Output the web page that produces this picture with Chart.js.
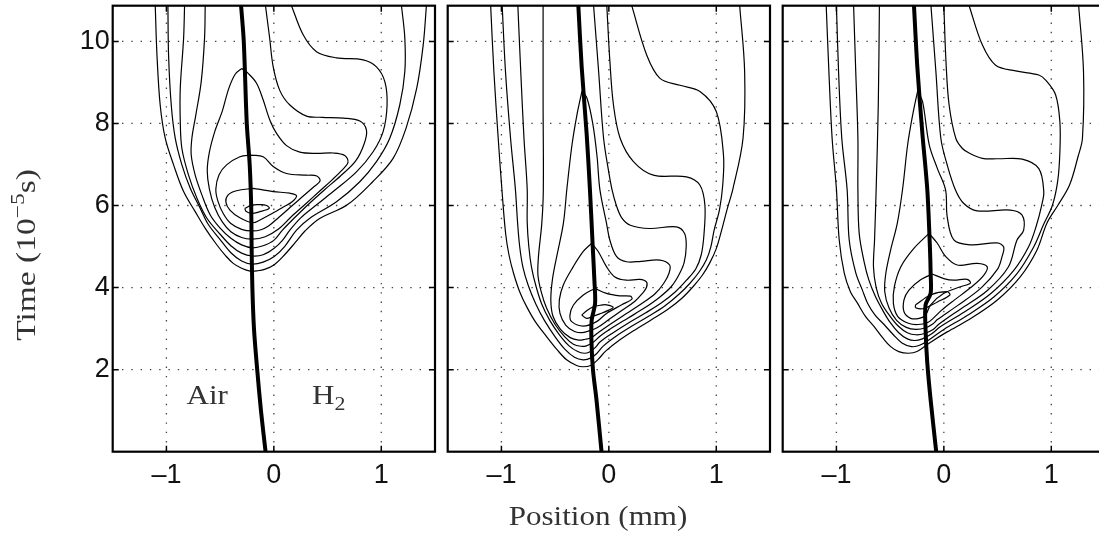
<!DOCTYPE html>
<html>
<head>
<meta charset="utf-8">
<script src="https://cdn.jsdelivr.net/npm/chart.js@4.4.1/dist/chart.umd.min.js"></script>
<style>
html, body { margin: 0; padding: 0; background: #fff; overflow: hidden; width: 1099px; height: 537px; }
canvas { position: absolute; top: 0; }
</style>
</head>
<body>
<canvas id="p1" width="440" height="537" style="left:0px;width:440px;height:537px"></canvas>
<canvas id="p2" width="440" height="537" style="left:335px;width:440px;height:537px"></canvas>
<canvas id="p3" width="440" height="537" style="left:670px;width:440px;height:537px"></canvas>
<script>
// axes
const xTicks = [-1, 0, 1];
const yTicks = [2, 4, 6, 8, 10];
const xMin = -1.5, xMax = 1.5, yMin = 0, yMax = 10.87;

// panel 1 : interface + contour levels (outer C1 ... inner C8), [position mm, time 1e-5 s]
const p1Interface = [[-0.305,10.87],[-0.28,10],[-0.252,8],[-0.225,7],[-0.211,6],[-0.207,5],[-0.2,4],[-0.185,3],[-0.155,2],[-0.12,1],[-0.077,0]];
const p1C1 = [[-1.104,10.87],[-1.088,9.67],[-1.058,8.45],[-1.011,7.64],[-0.933,6.99],[-0.84,6.34],[-0.732,5.85],[-0.64,5.45],[-0.533,5.05],[-0.45,4.78],[-0.378,4.59],[-0.3,4.47],[-0.22,4.4],[-0.15,4.41],[-0.08,4.45],[0,4.55],[0.1,4.8],[0.2,5.1],[0.29,5.38],[0.43,5.69],[0.68,6.01],[0.92,6.58],[1.11,7.15],[1.23,7.88],[1.33,8.86],[1.39,9.91],[1.42,10.87]];
const p1C2 = [[-0.986,10.87],[-0.98,9.67],[-0.955,8.45],[-0.918,7.64],[-0.856,6.99],[-0.778,6.42],[-0.685,5.93],[-0.608,5.53],[-0.5,5.17],[-0.4,4.85],[-0.3,4.65],[-0.2,4.57],[-0.1,4.62],[0,4.75],[0.1,5.0],[0.211,5.4],[0.335,5.69],[0.583,6.09],[0.8,6.58],[0.955,7.07],[1.079,7.64],[1.172,8.45],[1.219,9.26],[1.219,10.08],[1.188,10.87]];
const p1C3 = [[-0.831,10.87],[-0.84,10.08],[-0.871,8.86],[-0.871,8.04],[-0.856,7.39],[-0.794,6.74],[-0.716,6.18],[-0.623,5.69],[-0.5,5.3],[-0.4,5.02],[-0.3,4.84],[-0.2,4.77],[-0.1,4.8],[0,4.95],[0.08,5.15],[0.149,5.4],[0.25,5.7],[0.38,5.98],[0.552,6.34],[0.769,6.82],[0.924,7.31],[1.017,7.8],[1.054,8.45],[1.033,9.02],[0.955,9.38],[0.831,9.55],[0.583,9.6],[0.397,9.75],[0.273,10.16],[0.164,10.87]];
const p1C4 = [[-0.639,10.87],[-0.645,10.08],[-0.676,9.02],[-0.726,8.21],[-0.763,7.64],[-0.769,7.23],[-0.732,6.74],[-0.67,6.26],[-0.592,5.77],[-0.5,5.45],[-0.4,5.2],[-0.3,5.04],[-0.2,4.97],[-0.1,5.02],[0,5.15],[0.08,5.4],[0.2,5.72],[0.33,6.05],[0.47,6.38],[0.62,6.72],[0.76,7.08],[0.84,7.5],[0.862,7.84],[0.8,8.06],[0.65,8.13],[0.45,8.15],[0.304,8.18],[0.149,8.45],[0.056,8.8],[-0.006,9.38],[-0.04,10.1],[-0.078,10.87]];
const p1C5 = [[-0.298,9.34],[-0.239,9.22],[-0.161,8.98],[-0.099,8.57],[-0.037,8.08],[0.025,7.76],[0.118,7.46],[0.242,7.3],[0.397,7.27],[0.552,7.28],[0.66,7.22],[0.69,7.05],[0.63,6.85],[0.54,6.62],[0.43,6.36],[0.3,6.05],[0.16,5.72],[0.04,5.42],[-0.08,5.24],[-0.2,5.18],[-0.3,5.22],[-0.4,5.36],[-0.48,5.6],[-0.55,5.95],[-0.6,6.4],[-0.62,6.85],[-0.6,7.3],[-0.55,7.8],[-0.48,8.3],[-0.42,8.85],[-0.36,9.2],[-0.298,9.34]];
const p1C6 = [[-0.208,7.23],[-0.099,7.19],[-0.006,6.95],[0.118,6.78],[0.304,6.74],[0.4,6.72],[0.43,6.6],[0.37,6.45],[0.26,6.2],[0.15,5.95],[0.05,5.72],[-0.05,5.5],[-0.12,5.41],[-0.2,5.38],[-0.3,5.42],[-0.4,5.56],[-0.47,5.8],[-0.52,6.1],[-0.54,6.4],[-0.51,6.75],[-0.44,6.99],[-0.316,7.19],[-0.208,7.23]];
const p1C7 = [[-0.192,6.42],[-0.006,6.34],[0.149,6.3],[0.211,6.24],[0.17,6.09],[0.08,5.95],[-0.02,5.8],[-0.12,5.66],[-0.2,5.58],[-0.316,5.7],[-0.409,5.89],[-0.447,6.09],[-0.425,6.26],[-0.347,6.36],[-0.192,6.42]];
const p1C8 = [[-0.27,5.93],[-0.208,6.01],[-0.13,6.02],[-0.068,6.0],[-0.043,5.93],[-0.13,5.85],[-0.208,5.81],[-0.26,5.86],[-0.27,5.93]];

// panel 2
const p2Interface = [[-0.284,10.87],[-0.253,9.38],[-0.207,7.76],[-0.176,6.38],[-0.15,5],[-0.135,4.2],[-0.128,3.62],[-0.16,3.2],[-0.162,2.7],[-0.148,2],[-0.115,1.26],[-0.068,0]];
const p2C1 = [[-1.1,10.87],[-1.07,9.26],[-1.03,7.64],[-0.99,6.2],[-0.96,5.3],[-0.93,4.8],[-0.887,4.35],[-0.83,3.9],[-0.764,3.53],[-0.68,3.15],[-0.578,2.8],[-0.48,2.48],[-0.393,2.24],[-0.3,2.1],[-0.24,2.07],[-0.17,2.1],[-0.1,2.25],[-0.03,2.45],[0.1,2.72],[0.25,2.98],[0.4,3.22],[0.55,3.47],[0.68,3.74],[0.783,4.02],[0.87,4.3],[0.937,4.59],[1.0,4.95],[1.05,5.4],[1.1,5.9],[1.156,6.42],[1.249,7.64],[1.264,9.26],[1.218,10.87]];
const p2C2 = [[-0.993,10.87],[-0.962,9.26],[-0.915,7.64],[-0.87,6.4],[-0.85,5.6],[-0.83,5.0],[-0.8,4.5],[-0.75,4.05],[-0.68,3.6],[-0.6,3.2],[-0.5,2.8],[-0.41,2.5],[-0.32,2.3],[-0.24,2.24],[-0.17,2.28],[-0.11,2.4],[-0.05,2.58],[0.07,2.82],[0.22,3.07],[0.37,3.3],[0.52,3.55],[0.65,3.83],[0.753,4.1],[0.84,4.38],[0.907,4.67],[0.95,5.0],[0.98,5.4],[1.03,5.9],[1.06,6.5],[1.067,7.23],[1.0,8.29],[0.848,8.78],[0.662,8.93],[0.476,9.1],[0.352,9.67],[0.213,10.87]];
const p2C3 = [[-0.847,10.87],[-0.82,9.26],[-0.79,7.64],[-0.76,6.4],[-0.76,5.6],[-0.745,5.0],[-0.72,4.5],[-0.68,4.05],[-0.625,3.6],[-0.55,3.2],[-0.46,2.85],[-0.37,2.58],[-0.29,2.44],[-0.23,2.4],[-0.18,2.43],[-0.13,2.53],[-0.08,2.68],[0.04,2.9],[0.19,3.15],[0.34,3.38],[0.49,3.63],[0.62,3.9],[0.723,4.18],[0.81,4.46],[0.86,4.8],[0.885,5.28],[0.894,6.01],[0.847,6.5],[0.723,6.7],[0.414,6.74],[0.229,7.07],[0.105,7.64],[0.043,8.45],[0.01,9.5],[-0.019,10.87]];
const p2C4 = [[-0.612,10.87],[-0.612,8.5],[-0.61,6.38],[-0.624,5.57],[-0.655,4.76],[-0.66,4.3],[-0.63,3.9],[-0.58,3.5],[-0.5,3.1],[-0.41,2.8],[-0.33,2.62],[-0.26,2.57],[-0.21,2.58],[-0.15,2.66],[-0.08,2.82],[0.03,3.02],[0.18,3.26],[0.33,3.5],[0.47,3.76],[0.58,4.02],[0.65,4.3],[0.7,4.6],[0.72,5.0],[0.705,5.32],[0.628,5.48],[0.381,5.44],[0.2,5.52],[0.12,5.7],[0.07,6.0],[0.03,6.38],[0,6.8],[-0.049,7.64],[-0.095,9.26],[-0.142,10.87]];
const p2C5 = [[-0.25,8.79],[-0.204,8.62],[-0.15,8.0],[-0.11,7.2],[-0.083,6.38],[-0.022,5.57],[0.009,5.16],[0.071,4.76],[0.164,4.63],[0.3,4.64],[0.475,4.67],[0.566,4.55],[0.56,4.35],[0.51,4.1],[0.43,3.85],[0.3,3.6],[0.16,3.36],[0.02,3.12],[-0.1,2.9],[-0.17,2.77],[-0.22,2.74],[-0.28,2.72],[-0.36,2.78],[-0.45,2.98],[-0.52,3.3],[-0.54,3.7],[-0.525,4.2],[-0.485,4.76],[-0.423,5.57],[-0.39,6.42],[-0.343,7.48],[-0.297,8.21],[-0.25,8.79]];
const p2C6 = [[-0.16,5.08],[-0.099,4.88],[-0.022,4.51],[0.056,4.26],[0.164,4.18],[0.288,4.2],[0.35,4.14],[0.35,4.0],[0.31,3.85],[0.24,3.66],[0.12,3.44],[0,3.22],[-0.11,3.02],[-0.2,2.93],[-0.25,2.9],[-0.32,2.93],[-0.4,3.08],[-0.455,3.37],[-0.461,3.7],[-0.423,4.07],[-0.331,4.51],[-0.238,4.88],[-0.16,5.08]];
const p2C7 = [[-0.13,3.98],[-0.022,3.86],[0.102,3.8],[0.2,3.79],[0.215,3.72],[0.12,3.58],[-0.022,3.37],[-0.114,3.17],[-0.238,3.06],[-0.346,3.17],[-0.362,3.33],[-0.331,3.57],[-0.238,3.82],[-0.13,3.98]];
const p2C8 = [[-0.253,3.33],[-0.2,3.45],[-0.145,3.53],[-0.08,3.57],[-0.022,3.58],[0.04,3.52],[0,3.45],[-0.084,3.36],[-0.15,3.3],[-0.207,3.25],[-0.253,3.33]];

// panel 3
const p3Interface = [[-0.278,10.87],[-0.247,9.38],[-0.2,7.76],[-0.154,6.38],[-0.13,5.0],[-0.123,4.35],[-0.123,3.86],[-0.17,3.58],[-0.17,2.97],[-0.154,2.16],[-0.123,1.26],[-0.071,0]];
const p3C1 = [[-1.095,10.87],[-1.07,9.26],[-1.04,7.64],[-1.0,6.4],[-0.974,5.16],[-0.927,4.35],[-0.87,3.9],[-0.804,3.62],[-0.73,3.3],[-0.649,3.05],[-0.57,2.78],[-0.495,2.56],[-0.42,2.44],[-0.33,2.4],[-0.25,2.44],[-0.123,2.67],[0.031,2.92],[0.247,3.24],[0.495,3.69],[0.711,4.26],[0.866,4.91],[0.959,5.57],[1.06,6.0],[1.17,6.5],[1.25,7.2],[1.29,7.64],[1.3,9.26],[1.255,10.87]];
const p3C2 = [[-1.0,10.87],[-0.98,9.26],[-0.95,7.64],[-0.9,6.38],[-0.881,5.16],[-0.819,4.35],[-0.76,3.95],[-0.71,3.62],[-0.64,3.33],[-0.556,3.1],[-0.47,2.85],[-0.39,2.65],[-0.3,2.56],[-0.22,2.6],[-0.12,2.76],[0,2.98],[0.217,3.32],[0.465,3.77],[0.681,4.34],[0.836,4.99],[0.93,5.55],[1.01,6.0],[1.06,6.6],[1.08,7.3],[1.08,8.04],[1.04,8.7],[0.95,9.05],[0.884,9.18],[0.668,9.28],[0.482,9.42],[0.359,9.91],[0.235,10.87]];
const p3C3 = [[-0.84,10.87],[-0.82,9.26],[-0.8,7.64],[-0.8,6.38],[-0.788,5.32],[-0.74,4.6],[-0.7,4.2],[-0.64,3.8],[-0.57,3.45],[-0.5,3.15],[-0.42,2.9],[-0.34,2.75],[-0.27,2.71],[-0.2,2.75],[-0.12,2.86],[-0.03,3.05],[0.187,3.4],[0.435,3.85],[0.651,4.42],[0.79,5.0],[0.86,5.5],[0.91,6.0],[0.93,6.34],[0.884,6.9],[0.73,7.13],[0.5,7.14],[0.359,7.15],[0.235,7.28],[0.173,7.39],[0.111,7.64],[0.049,8.45],[0.02,9.5],[0,10.87]];
const p3C4 = [[-0.6,10.87],[-0.61,8.5],[-0.63,6.4],[-0.645,5.16],[-0.655,4.5],[-0.63,4.0],[-0.58,3.62],[-0.5,3.3],[-0.42,3.05],[-0.34,2.9],[-0.26,2.85],[-0.18,2.88],[-0.1,2.98],[-0.05,3.1],[0.157,3.48],[0.405,3.93],[0.6,4.5],[0.681,5.16],[0.743,5.4],[0.727,5.77],[0.619,5.89],[0.31,5.87],[0.186,6.05],[0.108,6.38],[0.03,7.0],[-0.028,7.64],[-0.074,9.26],[-0.12,10.87]];
const p3C5 = [[-0.244,8.79],[-0.198,8.53],[-0.136,7.48],[-0.06,6.9],[0.016,6.38],[0.031,5.73],[0.093,5.16],[0.247,5.04],[0.495,5.09],[0.557,4.99],[0.541,4.75],[0.5,4.45],[0.35,4.0],[0.127,3.56],[-0.06,3.22],[-0.1,3.12],[-0.17,3.02],[-0.26,2.98],[-0.35,3.03],[-0.44,3.2],[-0.51,3.5],[-0.55,3.9],[-0.54,4.35],[-0.495,4.92],[-0.433,5.57],[-0.383,6.42],[-0.337,7.48],[-0.29,8.21],[-0.244,8.79]];
const p3C6 = [[-0.138,5.32],[-0.061,5.08],[0.016,4.76],[0.124,4.55],[0.31,4.59],[0.403,4.51],[0.371,4.3],[0.25,4.0],[0.1,3.7],[-0.02,3.45],[-0.1,3.25],[-0.15,3.15],[-0.24,3.1],[-0.33,3.13],[-0.43,3.3],[-0.47,3.62],[-0.46,4.03],[-0.4,4.51],[-0.277,4.96],[-0.138,5.32]];
const p3C7 = [[-0.108,4.33],[0,4.22],[0.093,4.18],[0.217,4.2],[0.247,4.11],[0.155,4.02],[0,3.86],[-0.123,3.58],[-0.17,3.33],[-0.23,3.25],[-0.309,3.25],[-0.371,3.41],[-0.371,3.7],[-0.325,3.94],[-0.216,4.19],[-0.108,4.33]];
const p3C8 = [[-0.263,3.58],[-0.124,3.82],[0.031,3.9],[0.056,3.82],[-0.06,3.65],[-0.185,3.49],[-0.263,3.51],[-0.263,3.58]];

const pts = a => a.map(([x, y]) => ({x, y}));

// dotted grid, box and inward ticks (matlab style)
const frame = {
  id: 'frame',
  beforeDatasetsDraw(chart) {
    const {ctx, chartArea: a, scales: {x, y}} = chart;
    ctx.save();
    ctx.strokeStyle = '#444';
    ctx.lineWidth = 1.3;
    ctx.setLineDash([1.4, 7.9]);
    xTicks.forEach(v => {
      const p = x.getPixelForValue(v);
      ctx.beginPath(); ctx.moveTo(p, a.bottom); ctx.lineTo(p, a.top); ctx.stroke();
    });
    yTicks.forEach(v => {
      const p = y.getPixelForValue(v);
      ctx.beginPath(); ctx.moveTo(a.left, p); ctx.lineTo(a.right, p); ctx.stroke();
    });
    ctx.restore();
  },
  afterDatasetsDraw(chart) {
    const {ctx, chartArea: a, scales: {x, y}} = chart;
    ctx.save();
    ctx.strokeStyle = '#000';
    ctx.lineWidth = 1.5;
    ctx.beginPath();
    xTicks.forEach(v => {
      const p = x.getPixelForValue(v);
      ctx.moveTo(p, a.bottom); ctx.lineTo(p, a.bottom - 6);
      ctx.moveTo(p, a.top); ctx.lineTo(p, a.top + 6);
    });
    yTicks.forEach(v => {
      const p = y.getPixelForValue(v);
      ctx.moveTo(a.left, p); ctx.lineTo(a.left + 6, p);
      ctx.moveTo(a.right, p); ctx.lineTo(a.right - 6, p);
    });
    ctx.stroke();
    ctx.lineWidth = 2.2;
    ctx.strokeRect(a.left, a.top, a.right - a.left, a.bottom - a.top);
    ctx.restore();
  }
};

const serif = '"Liberation Serif", "DejaVu Serif", serif';
const stretch = 1.15; // computer-modern look is wider than times

// draws text pieces [str, size, dy] centred on 0 along the baseline
function pieces(ctx, parts) {
  const ws = parts.map(([s, sz]) => { ctx.font = sz + 'px ' + serif; return ctx.measureText(s).width; });
  let cx = -ws.reduce((a, b) => a + b, 0) / 2;
  ctx.textAlign = 'left';
  parts.forEach(([s, sz, dy], i) => {
    ctx.font = sz + 'px ' + serif;
    ctx.fillText(s, cx, dy);
    cx += ws[i];
  });
}

const labels1 = {
  id: 'labels1',
  afterDraw(chart) {
    const {ctx, scales: {x, y}} = chart;
    ctx.save();
    ctx.fillStyle = '#333';
    ctx.textBaseline = 'alphabetic';
    ctx.save();
    ctx.translate(x.getPixelForValue(-0.62), y.getPixelForValue(1.16));
    ctx.scale(stretch, 1);
    pieces(ctx, [['Air', 27, 0]]);
    ctx.restore();
    ctx.save();
    ctx.translate(x.getPixelForValue(0.51), y.getPixelForValue(1.16));
    ctx.scale(stretch, 1);
    pieces(ctx, [['H', 27, 0], ['2', 19, 6]]);
    ctx.restore();
    // y title
    ctx.translate(35, 255);
    ctx.rotate(-Math.PI / 2);
    ctx.scale(1.24, 1);
    pieces(ctx, [['Time (10', 27, 0], ['\u22125', 19, -11], ['s)', 27, 0]]);
    ctx.restore();
  }
};

const labels2 = {
  id: 'labels2',
  afterDraw(chart) {
    const {ctx} = chart;
    ctx.save();
    ctx.fillStyle = '#333';
    ctx.textBaseline = 'alphabetic';
    ctx.translate(598 - 335, 525);
    ctx.scale(stretch, 1);
    pieces(ctx, [['Position (mm)', 27, 0]]);
    ctx.restore();
  }
};

const noPad = s => { s.paddingTop = 0; s.paddingBottom = 0; s.paddingLeft = 0; s.paddingRight = 0; };

function panel(id, contours, iface, showY, extra) {
  const datasets = contours.map(c => ({
    data: pts(c), borderColor: '#000', borderWidth: 1.2,
    pointRadius: 0, tension: 0.35, fill: false
  }));
  datasets.push({
    data: pts(iface), borderColor: '#000', borderWidth: 4,
    pointRadius: 0, tension: 0.3, fill: false
  });
  return new Chart(document.getElementById(id), {
    type: 'line',
    data: {datasets},
    options: {
      responsive: false,
      animation: false,
      events: [],
      layout: {autoPadding: false, padding: {top: 5.7, right: 5, left: 0, bottom: 0}},
      plugins: {legend: {display: false}, tooltip: {enabled: false}},
      scales: {
        x: {
          type: 'linear', min: xMin, max: xMax,
          afterBuildTicks: s => { s.ticks = xTicks.map(v => ({value: v})); },
          afterFit: s => { s.height = 85.3; noPad(s); },
          grid: {display: false, drawTicks: false},
          border: {display: false},
          ticks: {
            font: {family: '"Liberation Sans", Arial, sans-serif', size: 27},
            color: '#111', padding: 8, maxRotation: 0,
            callback: v => v < 0 ? '\u2013' + Math.abs(v) : String(v)
          }
        },
        y: {
          type: 'linear', min: yMin, max: yMax,
          afterBuildTicks: s => { s.ticks = yTicks.map(v => ({value: v})); },
          afterFit: s => { s.width = 112.7; noPad(s); },
          grid: {display: false, drawTicks: false},
          border: {display: false},
          ticks: {
            display: showY,
            font: {family: '"Liberation Sans", Arial, sans-serif', size: 27},
            color: '#111', padding: 3
          }
        }
      }
    },
    plugins: extra ? [frame, extra] : [frame]
  });
}

panel('p1', [p1C1, p1C2, p1C3, p1C4, p1C5, p1C6, p1C7, p1C8], p1Interface, true, labels1);
panel('p2', [p2C1, p2C2, p2C3, p2C4, p2C5, p2C6, p2C7, p2C8], p2Interface, false, labels2);
panel('p3', [p3C1, p3C2, p3C3, p3C4, p3C5, p3C6, p3C7, p3C8], p3Interface, false, null);
</script>
</body>
</html>
